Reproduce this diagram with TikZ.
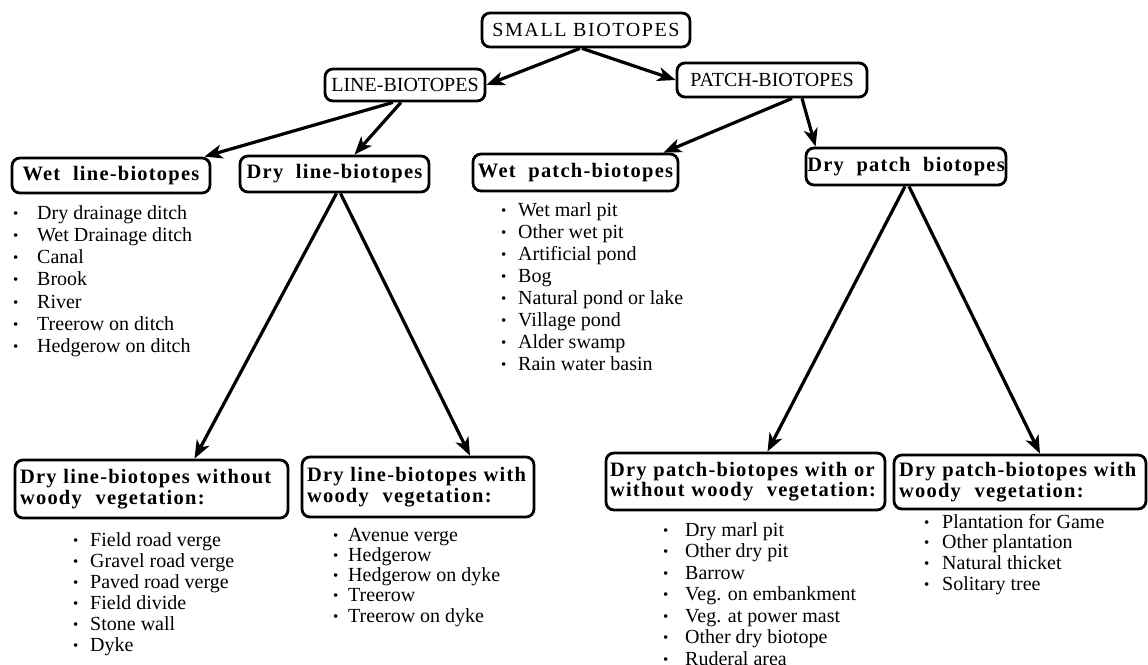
\documentclass[tikz,border=0pt]{standalone}
\usepackage{fontspec}
\setmainfont{Liberation Serif}
\newfontfamily\capsfont[LetterSpace=8]{Liberation Serif}
\newfontfamily\boxfont[LetterSpace=6]{Liberation Serif}
\usetikzlibrary{arrows.meta,calc}

% bullet of a list entry, followed by the gap before the entry text
\newcommand\itm[1]{\makebox[#1][l]{\raisebox{1pt}{\fontsize{15}{15}\selectfont\textbullet}}}

\tikzset{
  frame/.style={draw, line width=2.8pt, rounded corners=8pt, inner sep=0pt},
  headbox/.style={frame, font=\fontsize{20}{22}\selectfont, align=center},
  groupbox/.style={frame, font=\boxfont\bfseries\fontsize{20.5}{22}\selectfont, align=center},
  leafbox/.style={frame, font=\boxfont\bfseries\fontsize{20.5}{20.5}\selectfont, align=left},
  entry/.style={anchor=base west, inner sep=0pt, font=\fontsize{20}{22}\selectfont},
  arr/.style={line width=3.2pt, -{Stealth[length=18pt,width=14pt,inset=5pt]}},
}

\begin{document}
\begin{tikzpicture}[x=1pt,y=-1pt]
\path[use as bounding box, clip] (0,0) rectangle (1148,664);

% ---- hierarchy boxes ----
\node[headbox, minimum width=208pt, minimum height=34pt] (small) at (586,30)
  {\capsfont SMALL BIOTOPES};
\node[headbox, minimum width=160pt, minimum height=32pt] (line) at (405,85)
  {LINE-BIOTOPES};
\node[headbox, minimum width=190pt, minimum height=34pt] (patch) at (772,80)
  {PATCH-BIOTOPES};

\node[groupbox, minimum width=198pt, minimum height=35pt] (wetline) at (111,175.5)
  {Wet\ \ line-biotopes};
\node[groupbox, minimum width=189pt, minimum height=36pt] (dryline) at (334.5,174)
  {Dry\ \ line-biotopes};
\node[groupbox, minimum width=205pt, minimum height=37pt] (wetpatch) at (575.5,172.5)
  {Wet\ \ patch-biotopes};
\node[groupbox, minimum width=200pt, minimum height=37pt] (drypatch) at (906,166.5)
  {Dry\ \ patch\ \ biotopes};

\node[leafbox, text width=263pt, minimum width=273pt, minimum height=58pt] (dlno) at (151.5,489)
  {Dry line-biotopes without\\woody\ \ vegetation:};
\node[leafbox, text width=222pt, minimum width=232pt, minimum height=60pt] (dlwood) at (418,487)
  {Dry line-biotopes with\\woody\ \ vegetation:};
\node[leafbox, text width=271pt, minimum width=279pt, minimum height=57pt] (dpany) at (745.5,481.5)
  {Dry patch-biotopes with or\\without woody\ \ vegetation:};
\node[leafbox, text width=242pt, minimum width=252pt, minimum height=54pt] (dpwood) at (1020,482)
  {Dry patch-biotopes with\\woody\ \ vegetation:};

% ---- connectors ----
\draw[arr] ($(small.south)+(-6,0)$) -- (line.east);
\draw[arr] ($(small.south)+(-4,0)$) -- (patch.west);
\draw[arr] ($(line.south)+(-12,0)$) -- ($(wetline.north east)+(-7,0)$);
\draw[arr] ($(line.south)+(-4,0)$) -- ($(dryline.north)+(20,0)$);
\draw[arr] ($(patch.south)+(20,0)$) -- ($(wetpatch.north east)+(-16,0)$);
\draw[arr] ($(patch.south)+(30,0)$) -- ($(drypatch.north west)+(11,0)$);
\draw[arr] ($(dryline.south)+(2,0)$) -- ($(dlno.north)+(43,0)$);
\draw[arr] ($(dryline.south)+(6,0)$) -- ($(dlwood.north)+(52,0)$);
\draw[arr] ($(drypatch.south)+(-1,0)$) -- ($(dpany.north)+(22,0)$);
\draw[arr] ($(drypatch.south)+(3,0)$) -- ($(dpwood.north)+(20,0)$);

% ---- lists of biotope types ----
\foreach \t [count=\i from 0] in {Dry drainage ditch, Wet Drainage ditch, Canal,
    Brook, River, Treerow on ditch, Hedgerow on ditch}
  \node[entry] (wl\i) at (13,219+22.3*\i) {\itm{24pt}\t};

\foreach \t [count=\i from 0] in {Wet marl pit, Other wet pit, Artificial pond,
    Bog, Natural pond or lake, Village pond, Alder swamp, Rain water basin}
  \node[entry] (wp\i) at (501,216+22.1*\i) {\itm{17pt}\t};

\foreach \t [count=\i from 0] in {Field road verge, Gravel road verge,
    Paved road verge, Field divide, Stone wall, Dyke}
  \node[entry] (ln\i) at (73,546+21*\i) {\itm{17pt}\t};

\foreach \t [count=\i from 0] in {Avenue verge, Hedgerow, Hedgerow on dyke,
    Treerow, Treerow on dyke}
  \node[entry] (lw\i) at (333,541+20.3*\i) {\itm{15pt}\t};

\foreach \t [count=\i from 0] in {Dry marl pit, Other dry pit, Barrow,
    Veg. on embankment, Veg. at power mast, Other dry biotope, Ruderal area}
  \node[entry] (pa\i) at (663,536+21.5*\i) {\itm{22pt}\t};

\foreach \t [count=\i from 0] in {Plantation for Game, Other plantation,
    Natural thicket, Solitary tree}
  \node[entry] (pw\i) at (924,528+20.7*\i) {\itm{18pt}\t};
\end{tikzpicture}
\end{document}
